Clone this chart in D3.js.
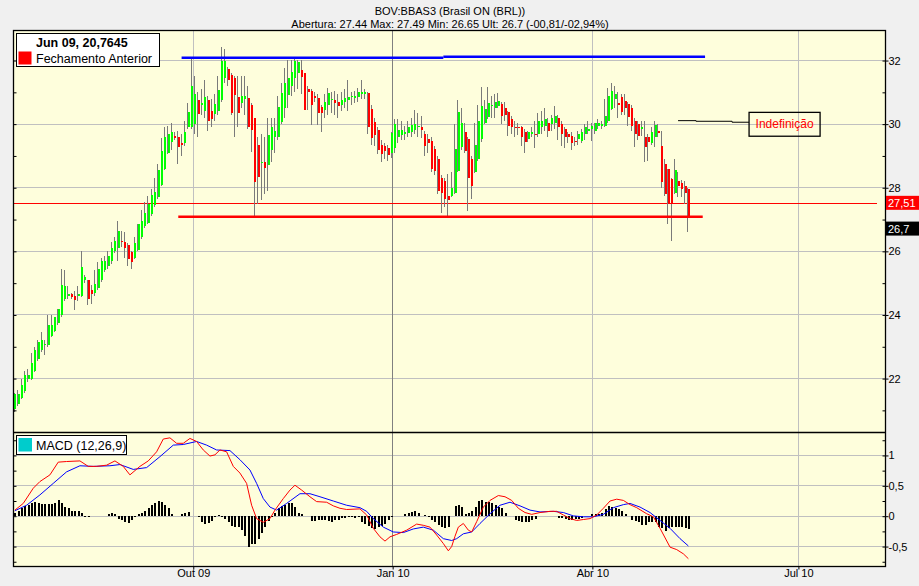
<!DOCTYPE html>
<html>
<head>
<meta charset="utf-8">
<script src="https://cdn.jsdelivr.net/npm/d3@7"></script>
<style>
  body { margin: 0; background: #f0f0f0; }
  svg { display: block; font-family: "Liberation Sans", Arial, sans-serif; }
</style>
</head>
<body>
<svg id="chart" width="919" height="586"></svg>
<script>
// daily candles, index 0 = first session shown
const openP = [21.04,21.2,21.4,21.6,22.0,22.0,22.25,22.6,22.9,23.05,
  23.05,23.35,23.5,23.75,24.0,24.5,24.6,24.65,24.6,24.6,
  24.6,25.1,25.1,24.8,24.7,24.85,25.1,25.4,25.55,25.7,
  26.0,26.1,26.32,26.3,26.2,25.98,25.8,26.05,26.45,26.8,
  26.9,27.17,27.47,27.7,28.1,28.6,29.1,29.43,29.62,29.58,
  29.4,29.4,29.9,29.9,30.0,30.76,30.6,30.4,30.76,30.42,
  30.31,30.42,30.76,31.44,31.72,31.54,31.44,30.86,30.65,30.78,
  30.81,30.6,30.18,29.34,28.78,28.82,28.71,29.19,29.6,29.6,
  30.08,30.5,30.91,31.2,31.44,31.6,31.7,31.6,31.12,31.05,
  30.87,30.81,30.55,30.44,30.6,30.75,30.76,30.7,30.6,30.7,
  30.76,30.85,30.81,30.86,30.95,30.95,30.97,30.49,30.07,29.81,
  29.34,29.3,29.24,29.08,29.24,29.6,29.66,29.7,29.71,29.76,
  29.81,29.9,29.92,29.69,29.53,29.48,29.21,28.9,28.32,28.22,
  27.75,27.75,27.85,28.53,29.27,29.76,29.53,28.9,28.48,28.9,
  29.53,30.05,30.21,30.56,30.52,30.58,30.63,30.5,30.37,30.15,
  29.92,29.92,29.9,29.74,29.53,29.7,29.7,29.69,29.9,29.95,
  30.05,30.0,30.05,30.2,30.0,29.84,29.7,29.63,29.48,29.53,
  29.48,29.68,29.8,29.84,29.8,29.95,29.95,29.95,30.1,30.47,
  30.8,30.65,30.84,30.73,30.63,30.52,30.1,30.0,29.84,29.58,
  29.6,29.42,29.58,29.77,29.32,28.74,28.58,28.27,27.85,28.2,
  28.15,28.05,27.95];
const highP = [21.55,21.63,22.0,22.25,22.3,22.8,23.0,23.2,23.45,23.2,
  24.0,24.0,23.95,24.2,25.45,25.4,24.9,24.7,24.75,24.9,
  26.0,25.25,25.1,24.95,25.4,25.65,25.8,25.85,26.0,26.3,
  26.45,26.95,26.65,26.6,26.25,26.0,26.45,26.85,27.3,27.55,
  27.75,27.95,28.3,28.75,29.55,29.9,29.95,30.05,29.75,29.8,
  29.7,30.1,30.65,32.1,31.5,31.0,31.1,31.4,30.9,30.8,
  30.95,31.5,32.43,32.35,31.8,31.6,31.5,31.5,31.5,31.5,
  31.2,30.65,30.2,29.6,29.7,29.6,30.2,30.2,30.2,30.9,
  31.3,31.75,32.03,32.03,32.07,32.03,32.03,31.6,31.2,31.1,
  31.0,30.95,30.6,30.95,31.15,31.0,31.05,30.95,31.0,31.1,
  31.4,31.0,31.05,31.15,31.4,31.1,31.0,30.6,30.2,29.9,
  29.5,29.4,29.35,29.75,30.15,30.15,30.1,29.95,30.1,30.2,
  30.45,30.35,30.25,29.8,29.7,29.6,29.3,29.0,28.4,28.3,
  28.42,28.5,30.02,30.75,30.5,30.05,29.6,29.0,30.05,30.6,
  31.17,30.75,31.17,30.9,30.95,30.98,30.7,30.7,30.4,30.25,
  30.1,30.05,29.95,29.85,29.8,29.9,30.1,30.35,30.4,30.5,
  30.2,30.3,30.57,30.3,30.1,29.9,29.75,29.75,29.6,29.8,
  29.85,30.0,30.1,30.05,30.05,30.15,30.1,30.8,31.15,31.3,
  31.2,31.0,30.95,30.95,30.7,30.6,30.2,30.1,30.1,30.1,
  29.7,29.9,30.1,30.0,29.8,28.9,28.6,28.3,28.9,28.5,
  28.25,28.2,27.98];
const lowP = [20.95,21.15,21.35,21.55,21.9,21.95,22.2,22.55,22.85,22.75,
  23.0,23.3,23.45,23.7,23.95,24.45,24.5,24.5,24.15,24.45,
  24.55,25.0,24.3,24.35,24.6,24.8,25.05,25.35,25.45,25.6,
  25.95,25.7,26.15,25.8,25.55,25.45,25.75,26.0,26.4,26.75,
  26.85,27.1,27.4,27.65,28.05,28.55,29.05,29.2,29.5,28.75,
  29.0,29.3,29.85,29.85,29.7,29.6,30.3,30.2,29.8,29.9,
  30.1,30.3,30.7,31.3,31.2,30.3,29.6,29.9,30.5,30.3,
  29.86,29.13,27.04,27.5,27.6,27.8,27.9,28.8,29.1,29.5,
  30.0,30.2,30.5,30.9,31.0,31.1,30.95,30.44,30.44,29.97,
  30.7,29.97,29.76,30.2,30.3,30.35,30.3,30.2,30.4,30.5,
  30.4,30.6,30.65,30.7,30.8,30.8,29.7,29.35,29.3,29.05,
  28.8,28.9,28.85,28.95,29.1,29.4,29.5,29.5,29.6,29.6,
  29.7,29.6,29.55,29.0,29.1,28.5,28.4,27.8,27.22,27.38,
  27.06,27.7,27.8,28.5,29.2,29.1,27.27,27.65,28.45,28.85,
  29.45,30.0,30.15,30.2,30.2,30.5,30.0,30.1,29.64,29.7,
  29.6,29.65,29.32,29.1,29.45,29.6,29.25,29.6,29.7,29.8,
  29.6,29.8,29.85,29.5,29.3,29.25,29.4,29.2,29.3,29.35,
  29.4,29.5,29.7,29.48,29.7,29.85,29.85,29.9,30.05,30.45,
  30.5,30.2,30.3,30.3,29.95,29.8,29.27,29.5,29.63,28.8,
  28.85,29.35,29.27,29.6,28.0,27.75,26.86,26.33,27.8,27.7,
  27.7,27.5,26.6];
const closeP = [21.5,21.53,21.8,22.1,22.1,22.5,22.9,23.15,23.2,23.08,
  23.7,23.7,23.95,24.2,24.95,24.9,24.65,24.55,24.48,24.65,
  25.5,25.2,24.5,24.65,24.98,25.46,25.7,25.7,25.85,26.1,
  26.33,26.65,26.28,26.1,25.77,25.65,26.25,26.85,26.96,27.2,
  27.5,27.78,27.87,28.55,29.16,29.58,29.7,29.74,29.56,29.27,
  29.35,29.75,30.37,31.2,30.95,30.31,30.65,30.86,30.1,30.16,
  30.63,31.07,32.0,32.0,31.39,30.34,30.91,30.34,30.89,30.87,
  29.92,29.81,28.19,28.35,28.82,28.61,29.66,29.92,29.8,30.55,
  30.97,31.28,31.44,31.65,32.0,31.95,31.49,30.44,31.0,30.6,
  30.81,30.34,30.34,30.7,30.97,30.8,30.67,30.57,30.76,30.81,
  30.86,30.88,30.88,31.02,31.0,31.0,29.92,29.55,29.66,29.19,
  29.06,29.15,29.03,29.71,30.02,29.81,29.81,29.76,29.92,29.97,
  30.02,29.95,29.81,29.32,29.42,28.58,28.53,27.9,27.85,27.64,
  27.62,27.99,29.21,30.37,30.05,29.16,28.32,28.06,29.35,30.1,
  30.58,30.47,30.68,30.6,30.7,30.73,30.26,30.3,29.95,29.9,
  29.9,29.9,29.58,29.43,29.74,29.75,29.67,30.1,30.1,30.15,
  29.77,30.2,30.26,29.9,29.68,29.58,29.58,29.42,29.43,29.7,
  29.74,29.9,29.85,29.95,30.05,30.05,30.0,30.26,30.9,31.05,
  30.95,30.6,30.37,30.52,30.21,29.95,29.69,29.63,29.9,29.27,
  29.45,29.74,29.98,29.72,28.17,27.8,27.48,27.48,28.55,28.05,
  27.95,27.85,27.06];

// MACD histogram, one bar per session
const histo = [0.06,0.08,0.14,0.17,0.18,0.21,0.23,0.21,0.2,0.2,
  0.2,0.2,0.22,0.26,0.22,0.15,0.13,0.09,0.08,0.09,
  0.05,0.005,0.005,0,0,0,0,0,0.04,0.05,
  0.03,-0.04,-0.07,-0.09,-0.11,-0.06,-0.02,0.04,0.06,0.08,
  0.14,0.18,0.21,0.25,0.23,0.19,0.14,0.04,0,0,
  0.04,0.06,0.07,0,0,-0.02,-0.1,-0.13,-0.12,-0.08,
  -0.02,0.02,0.005,-0.04,-0.09,-0.16,-0.17,-0.18,-0.23,-0.33,
  -0.51,-0.45,-0.45,-0.37,-0.27,-0.18,-0.08,-0.01,0.06,0.14,
  0.17,0.18,0.21,0.21,0.15,0.06,0.04,0,0,-0.08,
  -0.08,-0.07,-0.06,-0.07,-0.08,-0.09,-0.07,-0.06,-0.03,-0.03,
  -0.02,-0.02,-0.03,-0.02,-0.09,-0.13,-0.16,-0.19,-0.21,-0.18,
  -0.16,-0.13,-0.07,-0.02,0,0,0,0.04,0.06,0.07,
  0.09,0.05,0,0.02,-0.02,-0.07,-0.09,-0.15,-0.18,-0.19,
  -0.17,0,0.17,0.18,0.15,0.04,0.06,0.08,0.15,0.25,
  0.26,0.24,0.24,0.22,0.18,0.15,0.13,0.06,0,0,
  -0.07,-0.08,-0.09,-0.09,-0.09,-0.07,-0.04,0,0,0,
  0,0,0,-0.03,-0.03,-0.05,-0.055,-0.055,-0.05,-0.04,
  -0.03,0,0,0.03,0.03,0.04,0.06,0.12,0.17,0.15,
  0.14,0.12,0.08,0.03,0,-0.07,-0.08,-0.09,-0.15,-0.14,
  -0.1,-0.09,-0.1,-0.17,-0.2,-0.25,-0.2,-0.18,-0.18,-0.18,
  -0.18,-0.2,-0.21];

// MACD line (red) and signal line (blue), read at session index
const macdDays = [0,2.5,5.5,7.5,10.5,13,15.5,19.5,22,24.5,27.5,30,32.5,34.5,37.5,40,42.5,44.5,46.5,48.5,
  50.5,52.5,54.5,56.5,58.5,60,61.5,63.5,65.5,67.5,69.5,71,72.5,74.5,76.5,78,80.5,82.5,84,86,
  88.5,90.5,93.5,95.5,97.5,99.5,103.5,105.5,107.5,109.5,111,112.5,114.5,117.5,120.5,122.5,124.5,126.5,128.5,130,
  131,132,133,134.5,136,137,138.5,140.5,142.5,145,147,149,151,153,155,157.5,160.5,162.5,164.5,166.5,
  168.5,170.5,172.5,174.5,176.5,178.5,180.5,182.5,184.5,186.5,189.5,191.5,193.5,196.5,198.5,200.5,202];
const macdVals = [0.1,0.21,0.46,0.57,0.68,0.89,0.9,0.91,0.82,0.82,0.84,0.91,0.82,0.68,0.82,0.91,1.06,1.27,1.29,1.2,
  1.2,1.28,1.23,1.09,0.99,1.01,1.09,1.06,0.82,0.71,0.54,0.18,-0.04,-0.1,-0.04,0.1,0.29,0.43,0.51,0.43,
  0.32,0.24,0.23,0.17,0.13,0.11,0.12,0.02,-0.2,-0.34,-0.41,-0.34,-0.3,-0.23,-0.13,-0.15,-0.18,-0.31,-0.45,-0.57,
  -0.5,-0.33,-0.18,-0.12,-0.23,-0.26,-0.09,0.15,0.26,0.34,0.32,0.26,0.13,0.06,0.03,0.06,0.08,0.08,0.02,-0.04,
  -0.07,-0.055,-0.04,0.02,0.13,0.25,0.28,0.26,0.19,0.14,0.04,-0.01,-0.2,-0.51,-0.55,-0.62,-0.7];
const signalDays = [0,3.5,7.5,11.5,15.5,19.5,23.5,28.5,31.5,35.5,39.5,43.5,47.5,50.5,54.5,57.5,60.5,64.5,67.5,70.5,
  72.5,74.5,76.5,78.5,81.5,85.5,88.5,91.5,95.5,99.5,103.5,105.5,107.5,110.5,113.5,116.5,119.5,122.5,125.5,128.5,
  131,132.5,134.5,137,139.5,142.5,145.5,148.5,151.5,154.5,157.5,161.5,164.5,167.5,170.5,173.5,176.5,179.5,182.5,184.5,
  187.5,190.5,193.5,196.5,199.5,202];
const signalVals = [0.09,0.18,0.35,0.54,0.73,0.83,0.82,0.83,0.85,0.77,0.8,0.98,1.17,1.18,1.23,1.17,1.09,1.08,0.93,0.76,
  0.54,0.29,0.15,0.1,0.21,0.37,0.37,0.32,0.25,0.18,0.14,0.08,-0.04,-0.18,-0.26,-0.27,-0.21,-0.18,-0.23,-0.37,
  -0.4,-0.37,-0.29,-0.26,-0.12,0.04,0.18,0.23,0.17,0.1,0.07,0.08,0.06,0.005,-0.01,-0.01,0.03,0.14,0.19,0.21,
  0.15,0.06,-0.07,-0.2,-0.37,-0.49];

const priceTicks = [22, 24, 26, 28, 30, 32];
const macdTicks = [-0.5, 0, 0.5, 1];
const monthLabels = ["Out 09", "Jan 10", "Abr 10", "Jul 10"];
const monthDays = [53.5, 113.3, 173.2, 235.0];

const prevClose = 27.51, lastPrice = 26.7;
// drawn lines: [fromDay, toDay, price]
const resistance = [[50, 128.5, 32.09], [128.5, 207, 32.12]];
const support = [49, 206.3, 27.09];
const prevCloseEnd = 258.7;
const notePath = [[198.9, 30.11], [204.3, 30.11], [204.3, 30.09], [215.1, 30.09], [215.1, 30.06], [220.2, 30.06]];
const noteBox = [220.2, 241.5, 30.37, 29.62];

const svg = d3.select("#chart");
const W = +svg.attr("width"), H = +svg.attr("height");
const frame = {left: 13, right: 885, top: 30, split: 432, bottom: 566};

const x = d3.scaleLinear().domain([-0.57, 260.97]).range([frame.left, frame.right]);
const y = d3.scaleLinear().domain([20.32, 32.96]).range([frame.split, frame.top]);
const ym = d3.scaleLinear().domain([-0.82, 1.386]).range([frame.bottom, frame.split]);
const comma = d => String(d).replace(".", ",");

svg.append("rect").attr("width", W).attr("height", H).attr("fill", "#f0f0f0");
svg.append("rect")
  .attr("x", frame.left).attr("y", frame.top)
  .attr("width", frame.right - frame.left).attr("height", frame.bottom - frame.top)
  .attr("fill", "#fefedc");

// grid
const grid = svg.append("g").attr("shape-rendering", "crispEdges");
grid.selectAll(".gp").data(priceTicks).enter().append("line").attr("class", "gp")
  .attr("x1", frame.left).attr("x2", frame.right)
  .attr("y1", d => y(d)).attr("y2", d => y(d))
  .attr("stroke", "#c0c0c0");
grid.selectAll(".gm").data(macdTicks).enter().append("line").attr("class", "gm")
  .attr("x1", frame.left).attr("x2", frame.right)
  .attr("y1", d => ym(d)).attr("y2", d => ym(d))
  .attr("stroke", "#c0c0c0");
grid.selectAll(".gv").data(monthDays).enter().append("line").attr("class", "gv")
  .attr("x1", d => x(d)).attr("x2", d => x(d))
  .attr("y1", frame.top).attr("y2", frame.bottom)
  .attr("stroke", (d, i) => monthLabels[i].startsWith("Jan") ? "#808080" : "#c0c0c0");

// previous close
svg.append("line")
  .attr("shape-rendering", "crispEdges")
  .attr("x1", frame.left).attr("x2", x(prevCloseEnd))
  .attr("y1", y(prevClose)).attr("y2", y(prevClose))
  .attr("stroke", "#ff0000").attr("stroke-width", 1);

// candles
const candles = closeP.map((c, i) => ({i: i, o: openP[i], h: highP[i], l: lowP[i], c: c}));
const cg = svg.append("g").attr("shape-rendering", "crispEdges");
cg.selectAll(".wick").data(candles).enter().append("line").attr("class", "wick")
  .attr("x1", d => x(d.i) - 0.5).attr("x2", d => x(d.i) - 0.5)
  .attr("y1", d => y(d.h)).attr("y2", d => y(d.l))
  .attr("stroke", "#7a7a7a");
cg.selectAll(".body").data(candles).enter().append("rect").attr("class", "body")
  .attr("x", d => x(d.i) - 0.5)
  .attr("width", 2)
  .attr("y", d => y(Math.max(d.o, d.c)))
  .attr("height", d => Math.max(1, Math.abs(y(d.o) - y(d.c))))
  .attr("fill", d => d.c < d.o ? "#ff0000" : "#00ff00");

// hand drawn trend lines
svg.append("line")
  .attr("x1", x(support[0])).attr("x2", x(support[1]))
  .attr("y1", y(support[2])).attr("y2", y(support[2]))
  .attr("stroke", "#ff0000").attr("stroke-width", 2.5);
svg.selectAll(".res").data(resistance).enter().append("line").attr("class", "res")
  .attr("x1", d => x(d[0])).attr("x2", d => x(d[1]))
  .attr("y1", d => y(d[2])).attr("y2", d => y(d[2]))
  .attr("stroke", "#0000ff").attr("stroke-width", 2.5);

// note
svg.append("path")
  .attr("d", d3.line().x(d => x(d[0])).y(d => y(d[1]))(notePath))
  .attr("fill", "none").attr("stroke", "#000").attr("stroke-width", 1);
svg.append("rect")
  .attr("x", x(noteBox[0])).attr("y", y(noteBox[2]))
  .attr("width", x(noteBox[1]) - x(noteBox[0])).attr("height", y(noteBox[3]) - y(noteBox[2]))
  .attr("fill", "none").attr("stroke", "#000").attr("stroke-width", 1.3);
svg.append("text")
  .attr("x", (x(noteBox[0]) + x(noteBox[1])) / 2)
  .attr("y", (y(noteBox[2]) + y(noteBox[3])) / 2 + 4)
  .attr("text-anchor", "middle").attr("font-size", 12).attr("fill", "#ff0000")
  .text("Indefinição");

// MACD histogram and lines
const hg = svg.append("g").attr("shape-rendering", "crispEdges");
hg.selectAll("rect").data(histo.map((v, i) => ({i: i, v: v})).filter(d => d.v !== 0))
  .enter().append("rect")
  .attr("x", d => x(d.i) - 0.5)
  .attr("width", 2)
  .attr("y", d => Math.min(ym(0), ym(d.v)))
  .attr("height", d => Math.max(1, Math.abs(ym(d.v) - ym(0))))
  .attr("fill", "#000");

const mline = d3.line().x(d => x(d[0])).y(d => ym(d[1]));
svg.append("path")
  .attr("d", mline(signalDays.map((d, i) => [d, signalVals[i]])))
  .attr("fill", "none").attr("stroke", "#0000ff").attr("stroke-width", 1);
svg.append("path")
  .attr("d", mline(macdDays.map((d, i) => [d, macdVals[i]])))
  .attr("fill", "none").attr("stroke", "#ff0000").attr("stroke-width", 1);

// frame
svg.append("rect")
  .attr("x", frame.left + 0.5).attr("y", frame.top + 0.5)
  .attr("width", frame.right - frame.left).attr("height", frame.bottom - frame.top)
  .attr("fill", "none").attr("stroke", "#000").attr("stroke-width", 1.3);
svg.append("line")
  .attr("x1", frame.left).attr("x2", frame.right)
  .attr("y1", frame.split + 0.5).attr("y2", frame.split + 0.5)
  .attr("stroke", "#000").attr("stroke-width", 1.3);

// axes
function tidy(g) {
  g.select(".domain").remove();
  g.attr("font-family", null).attr("font-size", 11);
  g.selectAll("text").attr("fill", "#000");
}
svg.append("g").attr("transform", `translate(${frame.right + 0.5},0)`)
  .call(d3.axisRight(y).tickValues(priceTicks).tickSize(3).tickPadding(0).tickFormat(comma))
  .call(tidy);
svg.append("g").attr("transform", `translate(${frame.right + 0.5},0)`)
  .call(d3.axisLeft(y).tickValues(y.ticks(13)).tickSize(3).tickFormat(""))
  .call(tidy);
svg.append("g").attr("transform", `translate(${frame.left + 0.5},0)`)
  .call(d3.axisRight(y).tickValues(y.ticks(13)).tickSize(3).tickFormat(""))
  .call(tidy);

const macdMinor = d3.range(-0.75, 1.3, 0.25);
svg.append("g").attr("transform", `translate(${frame.right + 0.5},0)`)
  .call(d3.axisRight(ym).tickValues(macdTicks).tickSize(3).tickPadding(0).tickFormat(comma))
  .call(tidy);
svg.append("g").attr("transform", `translate(${frame.right + 0.5},0)`)
  .call(d3.axisLeft(ym).tickValues(macdMinor).tickSize(3).tickFormat(""))
  .call(tidy);
svg.append("g").attr("transform", `translate(${frame.left + 0.5},0)`)
  .call(d3.axisRight(ym).tickValues(macdMinor).tickSize(3).tickFormat(""))
  .call(tidy);

svg.append("g").attr("transform", `translate(0,${frame.bottom + 0.5})`)
  .call(d3.axisBottom(x).tickValues(monthDays).tickSize(3).tickPadding(0).tickFormat((d, i) => monthLabels[i]))
  .call(tidy);

// price tags at the right edge
const tags = [[prevClose, "#ff0000"], [lastPrice, "#000000"]];
const tg = svg.selectAll(".tag").data(tags).enter().append("g").attr("class", "tag");
tg.append("rect")
  .attr("x", frame.right + 1).attr("y", d => y(d[0]) - 7.5)
  .attr("width", W - frame.right - 1).attr("height", 14)
  .attr("fill", d => d[1]);
tg.append("text")
  .attr("x", frame.right + 3).attr("y", d => y(d[0]) + 4)
  .attr("font-size", 11).attr("fill", "#fff")
  .text(d => comma(d[0]));

// legends
const lg = svg.append("g");
lg.append("rect").attr("x", 16.5).attr("y", 33.5).attr("width", 143).attr("height", 33)
  .attr("fill", "#fff").attr("stroke", "#000");
lg.append("text").attr("x", 36).attr("y", 47).attr("font-size", 12.5).attr("font-weight", "bold")
  .text("Jun 09, 20,7645");
lg.append("rect").attr("x", 18.5).attr("y", 51.5).attr("width", 13).attr("height", 13).attr("fill", "#ff0000");
lg.append("text").attr("x", 36).attr("y", 62.5).attr("font-size", 12.5).text("Fechamento Anterior");

const ml = svg.append("g");
ml.append("rect").attr("x", 16.5).attr("y", 435.5).attr("width", 110).attr("height", 19)
  .attr("fill", "#fff").attr("stroke", "#000");
ml.append("rect").attr("x", 18.5).attr("y", 438).attr("width", 13.5).attr("height", 13.5).attr("fill", "#00cccc");
ml.append("text").attr("x", 36).attr("y", 449.5).attr("font-size", 12.5).text("MACD (12,26,9)");

// header
svg.append("text").attr("x", 450).attr("y", 15).attr("text-anchor", "middle").attr("font-size", 11)
  .text("BOV:BBAS3 (Brasil ON (BRL))");
svg.append("text").attr("x", 450).attr("y", 27.5).attr("text-anchor", "middle").attr("font-size", 11)
  .text("Abertura: 27.44 Max: 27.49 Min: 26.65 Ult: 26.7 (-00,81/-02,94%)");
</script>
</body>
</html>
